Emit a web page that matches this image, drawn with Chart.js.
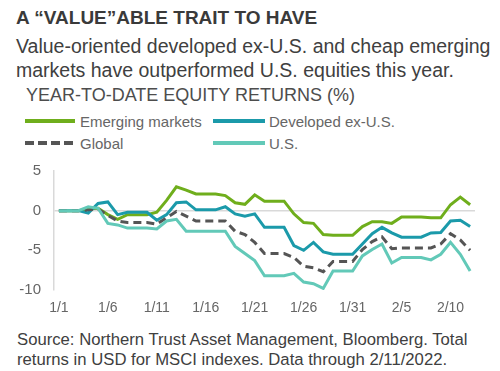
<!DOCTYPE html>
<html>
<head>
<meta charset="utf-8">
<script src="https://cdn.jsdelivr.net/npm/chart.js@4.4.1/dist/chart.umd.min.js"></script>
<style>
  body { margin: 0; width: 500px; height: 371px; background: #fff; position: relative; overflow: hidden;
         font-family: "Liberation Sans", Arial, sans-serif; }
  .t { position: absolute; white-space: nowrap; }
  #title { left: 16px; top: 7px; font-size: 19px; font-weight: bold; color: #3a3a3a; }
  #sub { left: 16px; top: 35px; font-size: 19.5px; line-height: 23.5px; color: #404040; }
  #head { left: 26px; top: 85px; font-size: 18px; color: #4d4d4d; }
  .leg { position: absolute; font-size: 15px; line-height: 15px; color: #666; white-space: nowrap; }
  .sw { position: absolute; height: 4px; }
  #wrap { position: absolute; left: 0; top: 149px; width: 500px; height: 171px; }
  #src { left: 17px; top: 330px; font-size: 16.7px; line-height: 19.5px; color: #404040; }
</style>
</head>
<body>
<div class="t" id="title">A “VALUE”ABLE TRAIT TO HAVE</div>
<div class="t" id="sub">Value-oriented developed ex-U.S. and cheap emerging<br>markets have outperformed U.S. equities this year.</div>
<div class="t" id="head">YEAR-TO-DATE EQUITY RETURNS (%)</div>

<div class="sw" style="left:25px;top:119px;width:50px;background:#6fae1c"></div>
<div class="leg" style="left:80px;top:114px">Emerging markets</div>
<div class="sw" style="left:213px;top:119px;width:52px;background:#1b9aaa"></div>
<div class="leg" style="left:269px;top:114px">Developed ex-U.S.</div>
<div class="sw" style="left:25px;top:141px;width:48px;background:repeating-linear-gradient(to right,#555 0 9px,transparent 9px 13px)"></div>
<div class="leg" style="left:80px;top:136px">Global</div>
<div class="sw" style="left:213px;top:141px;width:52px;background:#62c9b8"></div>
<div class="leg" style="left:269px;top:136px">U.S.</div>

<div id="wrap"><canvas id="grafico"></canvas></div>

<div class="t" id="src">Source: Northern Trust Asset Management, Bloomberg. Total<br>returns in USD for MSCI indexes. Data through 2/11/2022.</div>

<script>
// categorias diárias (só cada 5ª aparece no eixo)
const dias = [
  '1/1', '1/2', '1/3', '1/4', '1/5', '1/6', '1/7', '1/8', '1/9', '1/10',
  '1/11', '1/12', '1/13', '1/14', '1/15', '1/16', '1/17', '1/18', '1/19', '1/20',
  '1/21', '1/22', '1/23', '1/24', '1/25', '1/26', '1/27', '1/28', '1/29', '1/30',
  '1/31', '2/1', '2/2', '2/3', '2/4', '2/5', '2/6', '2/7', '2/8', '2/9',
  '2/10', '2/11', '2/12'
];
const rotulosX = ['1/1', '1/6', '1/11', '1/16', '1/21', '1/26', '1/31', '2/5', '2/10'];
const rotulosY = [5, 0, -5, -10];

const emergentes = [
  0, 0, 0, 0.2, 0.3, -0.5, -1.1, -0.5, -0.5, -0.5,
  -0.2, 1.3, 3.0, 2.6, 2.1, 2.1, 2.1, 1.9, 1.0, 0.8,
  2.0, 1.2, 1.2, 1.2, -0.4, -1.5, -1.6, -3.0, -3.1, -3.1,
  -3.1, -2.0, -1.4, -1.4, -1.6, -0.8, -0.8, -0.8, -0.9, -0.9,
  0.75, 1.7, 0.75
];
const desenvolvidos = [
  0, 0, 0, -0.3, 0.9, 1.1, -0.5, -0.2, -0.2, -0.2,
  -1.2, -0.5, 1.0, 1.1, 0.1, 0.1, 0.1, 0.5, -0.4, -0.7,
  -0.4, -2.1, -2.1, -2.1, -4.4, -5.0, -4.0, -5.2, -5.5, -5.5,
  -5.5, -4.2, -2.9, -2.1, -2.8, -3.35, -3.35, -3.35, -2.8, -2.75,
  -1.3, -1.2, -2.0
];
const global = [
  0, 0, 0, 0.1, 0.2, -0.6, -1.3, -1.5, -1.5, -1.5,
  -1.7, -0.9, -0.1, -0.7, -1.3, -1.3, -1.3, -1.3, -2.6, -3.0,
  -4.0, -5.4, -5.4, -5.4, -5.9, -7.0, -7.2, -7.7, -6.4, -6.4,
  -6.4, -4.9, -3.9, -3.3, -4.8, -4.7, -4.7, -4.7, -4.7, -4.2,
  -2.9, -3.7, -5.0
];
const eua = [
  0, 0, 0, 0.5, 0.3, -1.6, -1.8, -2.2, -2.2, -2.2,
  -2.3, -1.3, -1.1, -2.6, -2.6, -2.6, -2.6, -2.6, -4.5, -5.4,
  -6.3, -8.2, -8.2, -8.2, -7.9, -9.0, -9.2, -9.8, -7.6, -7.6,
  -7.6, -5.7, -4.9, -4.2, -6.6, -5.9, -5.9, -5.9, -6.2, -5.5,
  -4.0, -5.5, -7.6
];

document.addEventListener('DOMContentLoaded', () => {
  const ctx = document.getElementById('grafico').getContext('2d');
  const serie = (label, data, cor, extra) => Object.assign({
    label, data, borderColor: cor, backgroundColor: cor,
    borderWidth: 3, pointRadius: 0, tension: 0, fill: false
  }, extra || {});

  new Chart(ctx, {
    type: 'line',
    data: {
      labels: dias,
      datasets: [
        serie('U.S.', eua, '#62c9b8'),
        serie('Global', global, '#555555', { borderDash: [8, 5], borderCapStyle: 'butt' }),
        serie('Developed ex-U.S.', desenvolvidos, '#1b9aaa'),
        serie('Emerging markets', emergentes, '#6fae1c')
      ]
    },
    options: {
      responsive: true,
      maintainAspectRatio: false,
      animation: false,
      layout: { padding: { top: 10, right: 25, left: 0, bottom: 0 } },
      plugins: { legend: { display: false }, tooltip: { enabled: false } },
      scales: {
        x: {
          offset: true,
          grid: { display: false, drawTicks: false },
          border: { display: false },
          afterFit: s => { s.height = 30; },
          ticks: {
            autoSkip: false, maxRotation: 0, padding: 10,
            color: '#666', font: { family: 'Liberation Sans', size: 14 },
            callback: (v, i) => rotulosX.includes(dias[i]) ? dias[i] : ''
          }
        },
        y: {
          min: -10, max: 5,
          afterFit: s => { s.width = 54; },
          afterBuildTicks: s => { s.ticks = rotulosY.map(v => ({ value: v })); },
          grid: {
            drawTicks: false,
            color: c => c.tick && c.tick.value === 0 ? '#d9d9d9' : 'rgba(0,0,0,0)',
            lineWidth: 1.5
          },
          border: { display: true, color: '#d9d9d9', width: 1.5 },
          ticks: { padding: 13, color: '#666', font: { family: 'Liberation Sans', size: 15 } }
        }
      }
    }
  });
});
</script>
</body>
</html>
